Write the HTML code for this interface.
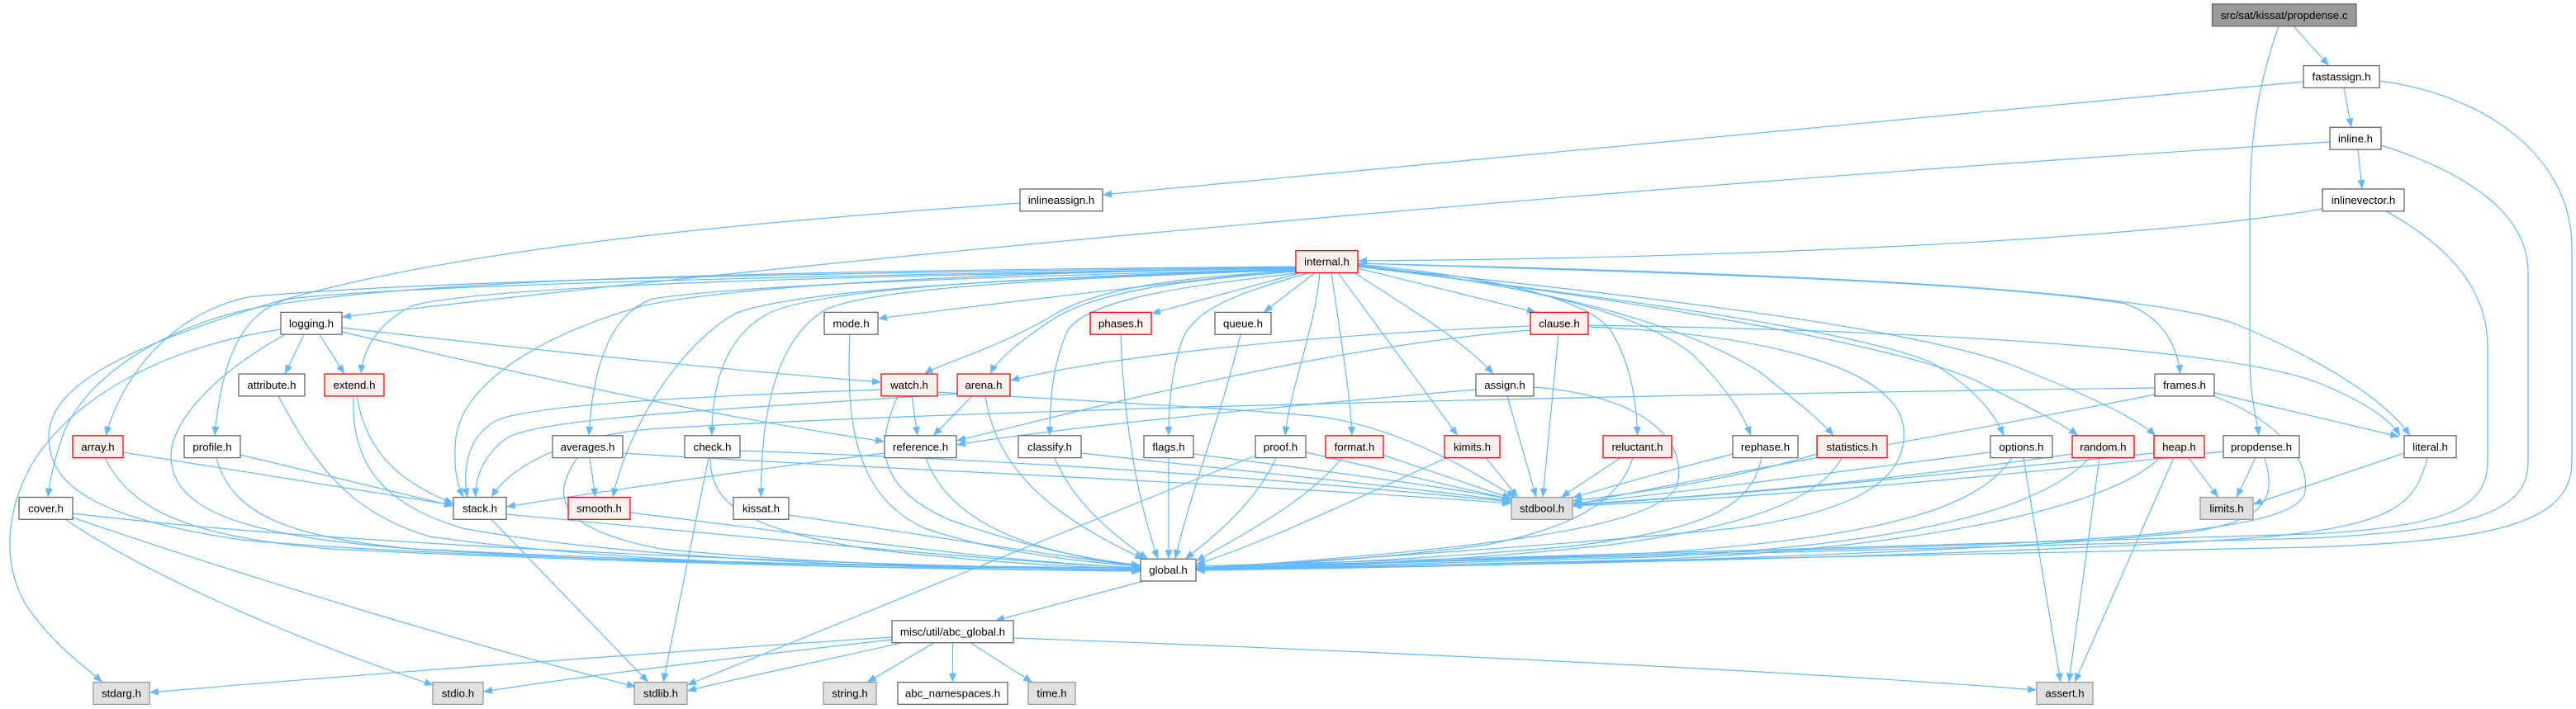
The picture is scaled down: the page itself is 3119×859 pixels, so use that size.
<!DOCTYPE html>
<html><head><meta charset="utf-8"><style>
html,body{margin:0;padding:0;background:#fff;}
svg{display:block;}
text{font-family:"Liberation Sans",Arial,sans-serif;font-size:13.3px;text-anchor:middle;fill:#000;}
.n{fill:#fff;stroke:#666;stroke-width:1.3;}
.r{fill:#FFF0F0;stroke:#F00;stroke-width:1.3;}
.g{fill:#E0E0E0;stroke:#999;stroke-width:1.3;}
.root{fill:#999;stroke:#666;stroke-width:1.3;}
</style></head><body>
<svg width="3119" height="859" viewBox="0 0 3119 859" xmlns="http://www.w3.org/2000/svg">
<defs><marker id="a" markerUnits="userSpaceOnUse" markerWidth="12" markerHeight="10" refX="11" refY="4.5" orient="auto" viewBox="0 0 12 9"><path d="M0,0L11,4.5L0,9z" fill="#63B8FF"/></marker></defs>
<rect width="3119" height="859" fill="#fff"/>
<g fill="none" stroke="#63B8FF" stroke-width="1.2" marker-end="url(#a)">
<path d="M2777,31.7 L2820,79.6"/>
<path d="M2759,31.7 C2735,100 2724,160 2724,260 L2724,430 C2724,480 2732,505 2735,527.8"/>
<path d="M2838,106.4 L2847,154.3"/>
<path d="M2789,99 L1335,236"/>
<path d="M2881,98 C3010,115 3114,190 3114,300 L3114,560 C3114,640 3000,655 2800,663 L1448,690"/>
<path d="M2855,181.1 L2860,229"/>
<path d="M2821,172 C2200,210 1200,290 414,384"/>
<path d="M2883,176 C2990,210 3061,260 3061,330 L3061,560 C3061,625 2980,642 2800,652 L1448,688"/>
<path d="M2812,253 C2600,290 2100,313 1644,316"/>
<path d="M2889,255.8 C2950,290 3012,340 3012,420 L3012,560 C3012,620 2950,638 2800,647 L1448,686"/>
<path d="M1235,246 C900,270 550,300 320,370 C120,430 50,480 60,540 C65,590 120,630 300,655 C600,680 1100,686 1381,688"/>
<path d="M1569,326 C1400,345 1200,368 1063,386"/>
<path d="M1575,330.5 L1394,380"/>
<path d="M1592,330.5 L1530,378.4"/>
<path d="M1569,328 C1450,335 1330,345 1270,385 C1200,425 1140,440 1119,453.1"/>
<path d="M1569,329 C1420,340 1320,355 1270,390 C1225,420 1205,440 1199,453.1"/>
<path d="M1569,326 C1300,335 1000,345 930,380 C875,410 862,470 862,527.8"/>
<path d="M1569,327 C1300,337 1060,347 1000,375 C940,410 921,500 921.5,602.5"/>
<path d="M1574,330.5 C1450,345 1320,360 1293,400 C1274,440 1271,490 1271,527.8"/>
<path d="M1585,330.5 C1500,355 1450,372 1432,410 C1418,450 1415,490 1415,527.8"/>
<path d="M1598,330.5 C1592,400 1562,470 1556,527.8"/>
<path d="M1612,330.5 C1625,420 1635,480 1637,527.8"/>
<path d="M1620,330.5 L1765,527.8"/>
<path d="M1640,330.5 C1700,370 1770,410 1808,453.1"/>
<path d="M1644,325 L1860,378.4"/>
<path d="M1644,320 C1800,335 1920,360 1950,400 C1975,440 1982,490 1982.5,527.8"/>
<path d="M1644,321 C1850,345 1990,380 2050,430 C2090,470 2110,500 2120,527.8"/>
<path d="M1644,322 C1900,350 2050,400 2130,450 C2180,490 2205,510 2220,527.8"/>
<path d="M1644,323 C1950,360 2250,400 2340,440 C2390,470 2415,500 2426,527.8"/>
<path d="M1644,323 C2000,365 2300,420 2390,460 C2460,495 2500,515 2516,527.8"/>
<path d="M1644,322 C2000,360 2300,395 2430,440 C2520,475 2585,505 2610,527.8"/>
<path d="M1644,319 C2000,330 2400,340 2574,368 C2620,385 2636,420 2640,453.1"/>
<path d="M1644,319 C2100,330 2550,345 2700,390 C2800,430 2885,480 2918,527.8"/>
<path d="M1569,325 C1200,330 900,345 780,370 C640,410 560,470 552,530 C548,570 555,590 561,602.5"/>
<path d="M1569,326 C1200,335 900,345 790,362 C740,380 718,440 713,527.8"/>
<path d="M1569,327 C1200,338 960,352 890,380 C820,420 760,520 742,602.5"/>
<path d="M1569,324 C1000,330 500,340 300,360 C210,380 150,450 128,527.8"/>
<path d="M1569,325 C1000,333 500,345 350,362 C290,378 268,440 260,527.8"/>
<path d="M1569,325 C1000,335 600,345 500,370 C460,390 440,420 437,453.1"/>
<path d="M1569,323 C1000,328 500,335 300,375 C190,400 100,460 75,530 C65,560 60,585 58,602.5"/>
<path d="M368,405.2 L345,453.1"/>
<path d="M387,405.2 L417,453.1"/>
<path d="M340,399 C200,420 90,480 40,560 C0,630 5,700 40,745 C70,785 100,805 124,826.6"/>
<path d="M346,405.2 C280,440 210,500 207,550 C205,620 300,650 500,665 C900,685 1200,688 1381,690"/>
<path d="M414,397 C700,430 900,450 1067,463"/>
<path d="M414,402 C700,470 900,510 1071,535"/>
<path d="M1029,405.2 C1025,500 1030,600 1120,640 C1200,668 1300,680 1381,686"/>
<path d="M1357,405.2 C1360,500 1375,600 1402,677.2"/>
<path d="M1502,405.2 C1480,500 1440,600 1423,677.2"/>
<path d="M1853,395 C1600,405 1350,430 1223,461"/>
<path d="M1853,400 C1600,420 1300,500 1158,534"/>
<path d="M1887,405.2 L1868,602.5"/>
<path d="M1923,394 C2300,400 2700,420 2810,465 C2870,490 2895,510 2906,527.8"/>
<path d="M1923,396 C2150,405 2300,450 2305,520 C2310,580 2250,620 2100,640 C1900,660 1600,680 1448,688"/>
<path d="M337,479.9 C380,560 420,620 520,650 C800,690 1200,690 1381,691"/>
<path d="M432,479.9 C445,560 500,590 549,610"/>
<path d="M428,479.9 C425,560 460,610 560,640 C800,685 1200,690 1381,692"/>
<path d="M1104,479.9 L1111,527.8"/>
<path d="M1067,472 C850,480 640,490 600,510 C565,530 560,570 566,602.5"/>
<path d="M1159,477 C900,495 660,505 615,530 C585,550 575,580 576,602.5"/>
<path d="M1087,479.9 C1060,540 1060,590 1150,630 C1250,665 1320,678 1381,685"/>
<path d="M1135,475 C1300,485 1500,495 1600,505 C1700,520 1780,570 1835,602.5"/>
<path d="M1177,479.9 L1130,527.8"/>
<path d="M1193,479.9 C1205,560 1260,620 1385,677.2"/>
<path d="M1787,472 C1600,488 1300,515 1158,539"/>
<path d="M1825,479.9 L1860,602.5"/>
<path d="M1857,469 C2000,480 2045,540 2030,590 C2000,640 1800,665 1448,689"/>
<path d="M2609,470 C2000,478 1200,495 800,519 C700,525 620,560 595,602.5"/>
<path d="M2681,476 L2905,529"/>
<path d="M2609,478 C2400,520 2100,570 1904,612"/>
<path d="M2681,480 C2760,510 2800,560 2790,600 C2770,640 2600,650 2400,660 L1448,688"/>
<path d="M149,548 L549,612"/>
<path d="M127,554.6 C160,620 230,650 400,665 C800,685 1200,690 1381,692"/>
<path d="M291,551 L549,613"/>
<path d="M262,554.6 C280,620 340,650 500,665 C800,685 1200,690 1381,692"/>
<path d="M714,554.6 L721,602.5"/>
<path d="M699,554.6 C668,600 670,640 800,665 C1000,685 1200,688 1381,690"/>
<path d="M754,549 C1000,565 1500,585 1830,610"/>
<path d="M860,554.6 C860,610 900,640 1050,665 C1200,682 1300,687 1381,689"/>
<path d="M858,554.6 L803,826.6"/>
<path d="M896,546 C1300,560 1600,585 1830,608"/>
<path d="M1071,549 C900,570 700,600 613,614"/>
<path d="M1121,554.6 C1140,610 1200,650 1290,670 C1330,680 1360,684 1381,686"/>
<path d="M1277,554.6 C1300,610 1350,650 1390,677.2"/>
<path d="M1309,549 C1500,570 1700,590 1830,607"/>
<path d="M1415,554.6 L1415,677.2"/>
<path d="M1445,550 C1600,570 1750,590 1830,605"/>
<path d="M1545,554.6 C1520,610 1470,650 1435,677.2"/>
<path d="M1520,552 C1300,640 1000,760 832,830"/>
<path d="M1581,548 C1680,570 1760,590 1830,605"/>
<path d="M1674,551 C1730,570 1790,590 1830,604"/>
<path d="M1625,554.6 C1580,610 1500,650 1448,680"/>
<path d="M1799,554.6 L1838,602.5"/>
<path d="M1752,554.6 C1650,600 1550,650 1448,684"/>
<path d="M1962,554.6 L1890,602.5"/>
<path d="M1977,554.6 C1960,610 1900,640 1800,660 C1650,680 1500,686 1448,688"/>
<path d="M2098,550 C2000,575 1950,590 1904,603"/>
<path d="M2133,554.6 C2120,610 2080,640 1900,662 C1700,680 1500,687 1448,689"/>
<path d="M2200,550 C2100,580 2000,595 1904,607"/>
<path d="M2230,554.6 C2200,610 2100,640 1950,660 C1750,682 1550,688 1448,690"/>
<path d="M2410,548 C2200,575 2050,595 1904,610"/>
<path d="M2450,554.6 L2495,826.6"/>
<path d="M2436,554.6 C2400,610 2300,650 2000,670 L1448,690"/>
<path d="M2509,550 C2300,580 2100,600 1904,611"/>
<path d="M2542,554.6 L2505,826.6"/>
<path d="M2530,554.6 C2470,620 2300,660 2000,675 L1448,690"/>
<path d="M2650,554.6 L2686,602.5"/>
<path d="M2632,554.6 L2512,826.6"/>
<path d="M2608,549 C2300,580 2100,600 1904,612"/>
<path d="M2615,554.6 C2550,620 2300,665 2000,678 L1448,691"/>
<path d="M2731,554.6 L2708,602.5"/>
<path d="M2692,547 C2400,580 2100,605 1904,613"/>
<path d="M2742,554.6 C2755,600 2750,630 2650,645 C2400,670 1900,685 1448,691"/>
<path d="M2911,549 L2728,611"/>
<path d="M2939,554.6 C2925,610 2900,635 2750,650 C2500,670 1900,685 1448,690"/>
<path d="M79,629.3 C200,710 400,790 525,830"/>
<path d="M88,627 C300,700 600,790 770,832"/>
<path d="M88,622 C400,660 1000,685 1381,690"/>
<path d="M613,623 C900,650 1200,680 1381,688"/>
<path d="M595,629.3 L785,826.6"/>
<path d="M763,621 C1000,650 1200,680 1381,688"/>
<path d="M955,624 C1100,645 1250,670 1381,686"/>
<path d="M1385,704 L1205,751.9"/>
<path d="M1080,772 C800,790 400,820 181,839"/>
<path d="M1080,775 C900,795 700,820 585,838"/>
<path d="M1092,778.7 C1000,800 900,820 832,837"/>
<path d="M1131,778.7 L1050,826.6"/>
<path d="M1153.5,778.7 L1153.5,826.6"/>
<path d="M1175,778.7 L1250,826.6"/>
<path d="M1227,773 C1700,790 2200,815 2466,836"/>
</g>
<g>
<rect class="root" x="2678.5" y="4.9" width="174.5" height="26.8"/><text x="2765.7" y="22.9">src/sat/kissat/propdense.c</text>
<rect class="n" x="2789" y="79.6" width="92" height="26.8"/><text x="2835" y="97.6">fastassign.h</text>
<rect class="n" x="2821" y="154.3" width="62" height="26.8"/><text x="2852" y="172.3">inline.h</text>
<rect class="n" x="1235" y="229" width="100" height="26.8"/><text x="1285" y="247">inlineassign.h</text>
<rect class="n" x="2812" y="229" width="99" height="26.8"/><text x="2861.5" y="247">inlinevector.h</text>
<rect class="r" x="1569" y="303.7" width="75" height="26.8"/><text x="1606.5" y="321.7">internal.h</text>
<rect class="n" x="340" y="378.4" width="74" height="26.8"/><text x="377" y="396.4">logging.h</text>
<rect class="n" x="998" y="378.4" width="65" height="26.8"/><text x="1030.5" y="396.4">mode.h</text>
<rect class="r" x="1320" y="378.4" width="74" height="26.8"/><text x="1357" y="396.4">phases.h</text>
<rect class="n" x="1471" y="378.4" width="68" height="26.8"/><text x="1505" y="396.4">queue.h</text>
<rect class="r" x="1853" y="378.4" width="70" height="26.8"/><text x="1888" y="396.4">clause.h</text>
<rect class="n" x="289" y="453.1" width="80" height="26.8"/><text x="329" y="471.1">attribute.h</text>
<rect class="r" x="393" y="453.1" width="72" height="26.8"/><text x="429" y="471.1">extend.h</text>
<rect class="r" x="1067" y="453.1" width="68" height="26.8"/><text x="1101" y="471.1">watch.h</text>
<rect class="r" x="1159" y="453.1" width="64" height="26.8"/><text x="1191" y="471.1">arena.h</text>
<rect class="n" x="1787" y="453.1" width="70" height="26.8"/><text x="1822" y="471.1">assign.h</text>
<rect class="n" x="2609" y="453.1" width="72" height="26.8"/><text x="2645" y="471.1">frames.h</text>
<rect class="r" x="88" y="527.8" width="61" height="26.8"/><text x="118.5" y="545.8">array.h</text>
<rect class="n" x="223" y="527.8" width="68" height="26.8"/><text x="257" y="545.8">profile.h</text>
<rect class="n" x="669" y="527.8" width="85" height="26.8"/><text x="711.5" y="545.8">averages.h</text>
<rect class="n" x="829" y="527.8" width="67" height="26.8"/><text x="862.5" y="545.8">check.h</text>
<rect class="n" x="1071" y="527.8" width="87" height="26.8"/><text x="1114.5" y="545.8">reference.h</text>
<rect class="n" x="1233" y="527.8" width="76" height="26.8"/><text x="1271" y="545.8">classify.h</text>
<rect class="n" x="1385" y="527.8" width="60" height="26.8"/><text x="1415" y="545.8">flags.h</text>
<rect class="n" x="1520" y="527.8" width="61" height="26.8"/><text x="1550.5" y="545.8">proof.h</text>
<rect class="r" x="1605" y="527.8" width="70" height="26.8"/><text x="1640" y="545.8">format.h</text>
<rect class="r" x="1749" y="527.8" width="67" height="26.8"/><text x="1782.5" y="545.8">kimits.h</text>
<rect class="r" x="1941" y="527.8" width="83" height="26.8"/><text x="1982.5" y="545.8">reluctant.h</text>
<rect class="n" x="2098" y="527.8" width="79" height="26.8"/><text x="2137.5" y="545.8">rephase.h</text>
<rect class="r" x="2200" y="527.8" width="85" height="26.8"/><text x="2242.5" y="545.8">statistics.h</text>
<rect class="n" x="2410" y="527.8" width="75" height="26.8"/><text x="2447.5" y="545.8">options.h</text>
<rect class="r" x="2509" y="527.8" width="75" height="26.8"/><text x="2546.5" y="545.8">random.h</text>
<rect class="r" x="2608" y="527.8" width="61" height="26.8"/><text x="2638.5" y="545.8">heap.h</text>
<rect class="n" x="2692" y="527.8" width="92" height="26.8"/><text x="2738" y="545.8">propdense.h</text>
<rect class="n" x="2911" y="527.8" width="63" height="26.8"/><text x="2942.5" y="545.8">literal.h</text>
<rect class="n" x="23" y="602.5" width="65" height="26.8"/><text x="55.5" y="620.5">cover.h</text>
<rect class="n" x="549" y="602.5" width="64" height="26.8"/><text x="581" y="620.5">stack.h</text>
<rect class="r" x="688" y="602.5" width="75" height="26.8"/><text x="725.5" y="620.5">smooth.h</text>
<rect class="n" x="888" y="602.5" width="67" height="26.8"/><text x="921.5" y="620.5">kissat.h</text>
<rect class="g" x="1830" y="602.5" width="74" height="26.8"/><text x="1867" y="620.5">stdbool.h</text>
<rect class="g" x="2664" y="602.5" width="64" height="26.8"/><text x="2696" y="620.5">limits.h</text>
<rect class="n" x="1381" y="677.2" width="67" height="26.8"/><text x="1414.5" y="695.2">global.h</text>
<rect class="n" x="1080" y="751.9" width="147" height="26.8"/><text x="1153.5" y="769.9">misc/util/abc_global.h</text>
<rect class="g" x="113" y="826.6" width="68" height="26.8"/><text x="147" y="844.6">stdarg.h</text>
<rect class="g" x="524" y="826.6" width="61" height="26.8"/><text x="554.5" y="844.6">stdio.h</text>
<rect class="g" x="768" y="826.6" width="64" height="26.8"/><text x="800" y="844.6">stdlib.h</text>
<rect class="g" x="997" y="826.6" width="64" height="26.8"/><text x="1029" y="844.6">string.h</text>
<rect class="n" x="1087" y="826.6" width="133" height="26.8"/><text x="1153.5" y="844.6">abc_namespaces.h</text>
<rect class="g" x="1245" y="826.6" width="57" height="26.8"/><text x="1273.5" y="844.6">time.h</text>
<rect class="g" x="2466" y="826.6" width="68" height="26.8"/><text x="2500" y="844.6">assert.h</text>
</g>
</svg>
</body></html>
